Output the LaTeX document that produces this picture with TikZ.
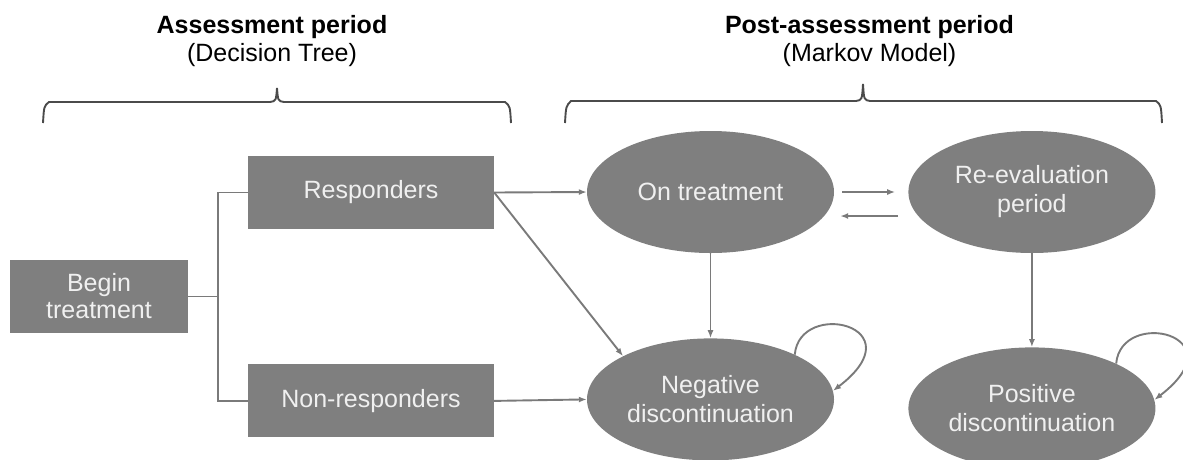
\documentclass[tikz,border=0pt]{standalone}
\usepackage{fontspec}
\setmainfont{Liberation Sans}
\usetikzlibrary{shapes.geometric,positioning,arrows.meta}

\definecolor{boxfill}{RGB}{127,127,127}
\definecolor{boxtext}{RGB}{240,240,240}
\definecolor{linkgray}{RGB}{122,122,122}
\definecolor{bracegray}{RGB}{75,75,75}

\begin{document}
\begin{tikzpicture}[x=1pt,y=-1pt,
            box/.style={
              fill=boxfill,
              text=boxtext,
              minimum width=246pt,
              minimum height=73pt,
              inner sep=0pt,
              align=center,
              font=\fontsize{25}{27}\selectfont
            },
            state/.style={
              ellipse,
              fill=boxfill,
              text=boxtext,
              minimum width=247pt,
              minimum height=122pt,
              inner sep=0pt,
              align=center,
              font=\fontsize{25}{29}\selectfont
            },
            link/.style={draw=linkgray, line width=1.9pt},
            arr/.style={link, -{Latex[length=8pt,width=6pt]}},
            brace/.style={draw=bracegray, line width=1.9pt},
            head/.style={anchor=base, inner sep=0pt, font=\bfseries\fontsize{25}{29}\selectfont},
            subhead/.style={anchor=base, inner sep=0pt, font=\fontsize{25}{29}\selectfont}
            ]
            \useasboundingbox (0,0) rectangle (1183,459);

            % decision tree
            \node[box, minimum width=178pt] (begin) at (99,296.5)
              {Begin\\treatment};
            \node[box] (resp) at (371,192.5)
              {Responders};
            \node[box, below=135pt of resp] (nonresp)
              {Non-responders};

            % markov states
            \node[state] (ontreat) at (710.5,192)
              {On treatment};
            \node[state, right=74pt of ontreat] (reeval)
              {Re-evaluation\\period};
            \node[state, below=85pt of ontreat] (neg)
              {Negative\\discontinuation};
            \node[state, below=94pt of reeval] (pos)
              {Positive\\discontinuation};

            % headings
            \node[head] (asmt) at (272,33) {Assessment period};
            \node[subhead] (dtree) at (272,61) {(Decision Tree)};
            \node[head] (post) at (869.5,33) {Post-assessment period};
            \node[subhead] (markov) at (869.5,61) {(Markov Model)};

            % braces
            \draw[brace] (43,123) .. controls (44,106) .. (49,102) -- (270,102)
              .. controls (276,101) .. (277,88) .. controls (278,101) .. (284,102)
              -- (505,102) .. controls (510,106) .. (511,123);
            \draw[brace] (565,123) .. controls (566,106) .. (571,101) -- (856,101)
              .. controls (862,100) .. (863,84) .. controls (864,100) .. (870,101)
              -- (1156,101) .. controls (1161,105) .. (1162,123);

            % tree lines
            \coordinate (split) at ([xshift=30pt]begin.east);
            \draw[link] (begin.east) -- (split);
            \draw[link] (resp.west) -| (split) |- (nonresp.west);

            % transitions
            \draw[arr] (resp.east) -- (ontreat.west);
            \draw[arr] (resp.east) -- (neg.north west);
            \draw[arr] (nonresp.east) -- (neg.west);
            \draw[arr] (ontreat.south) -- (neg.north);
            \draw[arr] (reeval.south) -- (pos.north);
            \draw[arr, shorten <=8pt, shorten >=13pt] (ontreat.east) -- (reeval.west);
            \draw[arr, shorten <=10pt, shorten >=6pt] ([yshift=-24pt]reeval.west) -- ([yshift=-24pt]ontreat.east);
            \draw[arr] (neg.28) .. controls +(5,-56) and +(85,-65) .. (neg.4);
            \draw[arr] (pos.28) .. controls +(5,-56) and +(85,-65) .. (pos.4);
\end{tikzpicture}
\end{document}
